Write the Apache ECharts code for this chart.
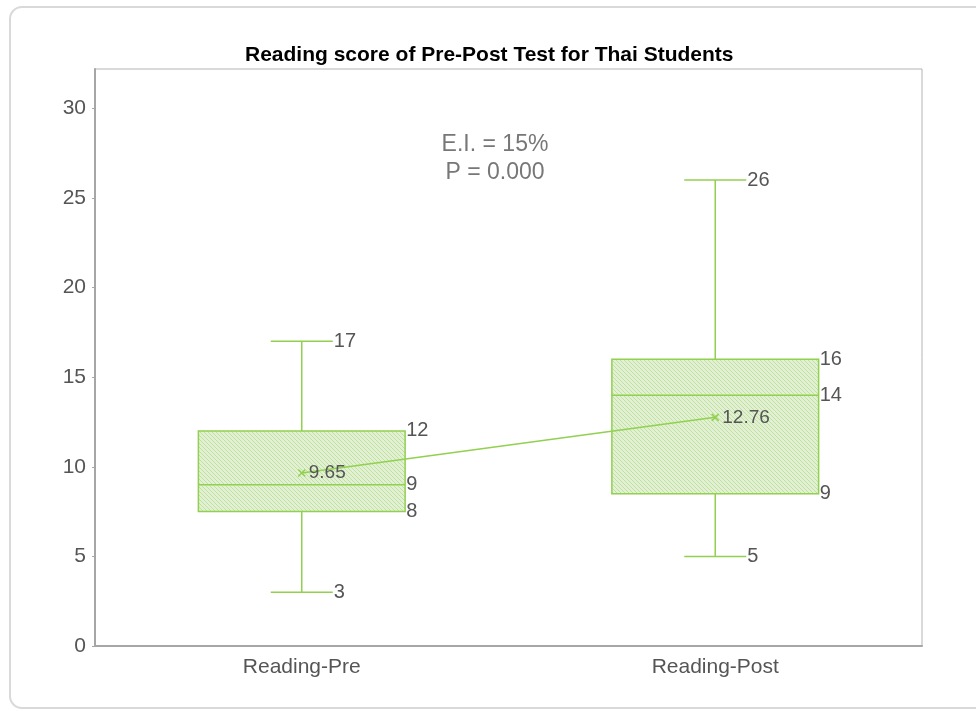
<!DOCTYPE html>
<html>
<head>
<meta charset="utf-8">
<script src="https://cdn.jsdelivr.net/npm/echarts@6/dist/echarts.min.js"></script>
<style>
  html, body { margin: 0; padding: 0; background: #fff; }
  #chart { width: 976px; height: 711px; }
</style>
</head>
<body>
<div id="chart"></div>
<script>
// Five-number summaries of the reading test, one entry per test
const categories = ['Reading-Pre', 'Reading-Post'];
const minValues = [3, 5];
const q1Values = [7.5, 8.5];
const medianValues = [9, 14];
const q3Values = [12, 16];
const maxValues = [17, 26];
const meanValues = [9.65, 12.76];
const yTicks = [0, 5, 10, 15, 20, 25, 30];

const GREEN = '#92d050';
const LABEL = '#555555';
const FONT = 'Liberation Sans, Arial, sans-serif';

// Fine diagonal hatch used to fill the boxes
function hatchPattern() {
  const c = document.createElement('canvas');
  c.width = 4; c.height = 4;
  const ctx = c.getContext('2d');
  ctx.fillStyle = '#e2f1d3';
  ctx.fillRect(0, 0, 4, 4);
  ctx.strokeStyle = '#bfe0a0';
  ctx.lineWidth = 1;
  ctx.beginPath();
  ctx.moveTo(-1, -1); ctx.lineTo(5, 5);
  ctx.moveTo(-1, 3); ctx.lineTo(1, 5);
  ctx.moveTo(3, -1); ctx.lineTo(5, 1);
  ctx.stroke();
  return c;
}
const hatch = hatchPattern();

const boxData = categories.map((c, i) =>
  [i, minValues[i], q1Values[i], medianValues[i], q3Values[i], maxValues[i]]);

function txt(text, x, y) {
  return {
    type: 'text',
    style: { text: text, x: x, y: y, align: 'left', verticalAlign: 'middle',
             fill: LABEL, font: '20px ' + FONT }
  };
}

function renderBox(params, api) {
  const idx = api.value(0);
  const vMin = api.value(1), vQ1 = api.value(2), vMed = api.value(3),
        vQ3 = api.value(4), vMax = api.value(5);
  const band = api.size([1, 0])[0];
  const half = band * 0.25;
  const cap = band * 0.075;
  const pMin = api.coord([idx, vMin]);
  const pQ1 = api.coord([idx, vQ1]);
  const pMed = api.coord([idx, vMed]);
  const pQ3 = api.coord([idx, vQ3]);
  const pMax = api.coord([idx, vMax]);
  const x = pMed[0];
  const line = { stroke: GREEN, lineWidth: 1.5 };
  const fmt = v => String(Math.round(v));
  return {
    type: 'group',
    children: [
      { type: 'line', shape: { x1: x, y1: pMax[1], x2: x, y2: pQ3[1] }, style: line },
      { type: 'line', shape: { x1: x, y1: pQ1[1], x2: x, y2: pMin[1] }, style: line },
      { type: 'line', shape: { x1: x - cap, y1: pMax[1], x2: x + cap, y2: pMax[1] }, style: line },
      { type: 'line', shape: { x1: x - cap, y1: pMin[1], x2: x + cap, y2: pMin[1] }, style: line },
      { type: 'rect',
        shape: { x: x - half, y: pQ3[1], width: half * 2, height: pQ1[1] - pQ3[1] },
        style: { fill: { image: hatch, repeat: 'repeat' }, stroke: GREEN, lineWidth: 1.5 } },
      { type: 'line', shape: { x1: x - half, y1: pMed[1], x2: x + half, y2: pMed[1] }, style: line },
      txt(fmt(vMax), x + cap + 1, pMax[1]),
      txt(fmt(vQ3), x + half + 1, pQ3[1]),
      txt(fmt(vMed), x + half + 1, pMed[1]),
      txt(fmt(vQ1), x + half + 1, pQ1[1]),
      txt(fmt(vMin), x + cap + 1, pMin[1])
    ]
  };
}

const chart = echarts.init(document.getElementById('chart'), null, { renderer: 'canvas' });

chart.setOption({
  animation: false,
  backgroundColor: '#fff',
  title: {
    text: 'Reading score of Pre-Post Test for Thai Students',
    left: 240,
    top: 40,
    textStyle: { fontFamily: FONT, fontSize: 21, fontWeight: 'bold', color: '#000' }
  },
  graphic: [
    {
      type: 'rect', silent: true, z: -1,
      shape: { x: 10, y: 7, width: 1000, height: 701, r: 12 },
      style: { fill: 'none', stroke: '#d9d9d9', lineWidth: 2 }
    },
    {
      type: 'text', z: 10, x: 495, y: 131,
      style: { text: 'E.I. = 15%\nP = 0.000', align: 'center', verticalAlign: 'top',
               fill: '#777', font: '23px ' + FONT, lineHeight: 28 }
    }
  ],
  grid: {
    left: 95, right: 54, top: 69, bottom: 65,
    show: true, borderColor: '#b3b3b3', borderWidth: 1
  },
  xAxis: {
    type: 'category',
    data: categories,
    boundaryGap: true,
    axisLine: { lineStyle: { color: '#a6a6a6', width: 2 } },
    axisTick: { show: false },
    axisLabel: { color: LABEL, fontFamily: FONT, fontSize: 21, margin: 11 },
    splitLine: { show: false }
  },
  yAxis: {
    type: 'value',
    min: 0,
    max: 32.2,
    interval: 5,
    axisLine: { show: true, lineStyle: { color: '#a6a6a6', width: 2 } },
    axisTick: { show: true, length: 3, lineStyle: { color: '#a6a6a6' } },
    axisLabel: {
      color: LABEL, fontFamily: FONT, fontSize: 21, margin: 9,
      showMaxLabel: false,
      formatter: v => (yTicks.indexOf(v) >= 0 ? String(v) : '')
    },
    splitLine: { show: false }
  },
  series: [
    {
      type: 'custom',
      renderItem: renderBox,
      data: boxData,
      encode: { x: 0, y: [1, 2, 3, 4, 5] },
      z: 2
    },
    {
      type: 'line',
      data: meanValues,
      symbol: 'path://M0,0L10,10M10,0L0,10',
      symbolSize: 7,
      showSymbol: true,
      lineStyle: { color: GREEN, width: 1.5 },
      itemStyle: { color: 'none', borderColor: GREEN, borderWidth: 1.5 },
      label: {
        show: true, position: 'right', distance: 1,
        color: LABEL, fontFamily: FONT, fontSize: 19,
        formatter: p => p.value.toFixed(2)
      },
      z: 5
    }
  ]
});
</script>
</body>
</html>
